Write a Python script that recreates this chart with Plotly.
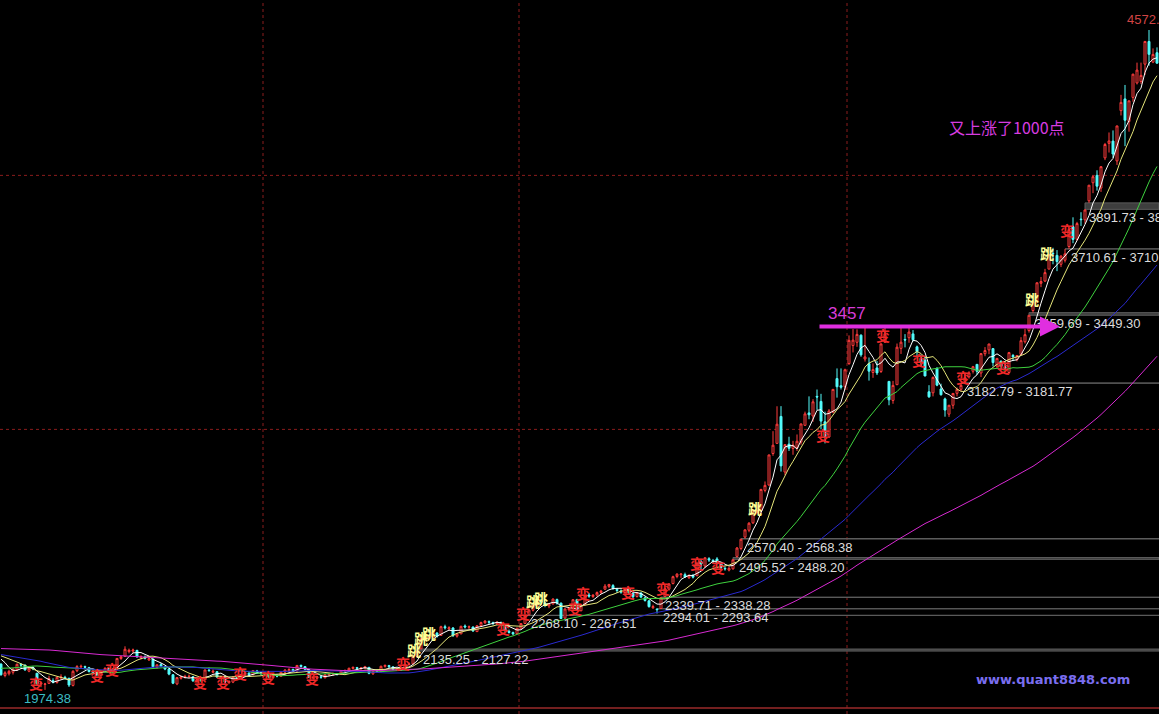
import pandas as pd
import plotly.graph_objects as go

# ---------------- data ----------------
pre_closes = [2085, 2073, 2072, 2057, 2096, 2103, 2101, 2097, 2098,
              2098, 2123, 2127, 2123, 2139, 2212, 2237, 2236, 2255, 2236, 2231, 2191, 2185, 2222, 2207, 2155, 2155, 2160, 2160, 2174,
              2199, 2211, 2194, 2228, 2238, 2233, 2194, 2184, 2193, 2229, 2210, 2183, 2164, 2132, 2134, 2128, 2160, 2141,
              2150, 2149, 2139, 2129, 2107, 2106, 2109, 2126, 2087, 2136, 2135, 2197, 2193, 2207, 2200, 2196, 2185, 2178, 2193, 2202, 2220,
              2207, 2222, 2251, 2245, 2238, 2237, 2210, 2203, 2191, 2196, 2160, 2162, 2149, 2143, 2084, 2090, 2103, 2112, 2101, 2115,
              2109, 2083, 2045, 2047, 2027, 2023, 2034, 2013, 2026, 2023, 2004, 1991, 2008, 2051, 2043, 2054, 2042, 2033, 2038, 2033,
              2044, 2060, 2103, 2113, 2100, 2116, 2136, 2143, 2112, 2142, 2113, 2077]

closes = [2034.2, 2041.7, 2047.4, 2056.3, 2075.2, 2071.5, 2053.1, 2059.6, 2057.9, 1999.1, 2001.2, 1997.7, 2019.1, 2004.3, 2023.7, 2025.2, 2021.7, 1993.5, 2047.6, 2066.3, 2067.3, 2063.7, 2046.6, 2041.7, 2033.3,
          2047.5, 2059.0, 2043.7, 2058.8, 2098.3, 2105.1, 2134.3, 2130.5, 2131.5, 2105.1, 2105.2, 2098.9, 2097.8, 2065.4, 2073.1, 2067.2, 2056.3, 2036.5, 2000.7, 2022.8, 2026.4,
          2027.3, 2028.0, 2010.1, 2015.3, 2011.1, 2052.9, 2050.3, 2047.9, 2024.8, 2026.5, 2005.3, 2008.1, 2025.0, 2021.3, 2034.6, 2041.5, 2034.6, 2050.4, 2040.6, 2039.2,
          2038.3, 2024.5, 2029.8, 2029.0, 2043.8, 2052.5, 2054.3, 2050.1, 2070.7, 2066.8, 2055.6, 2024.8, 2023.7, 2026.7, 2024.2, 2034.1, 2036.5, 2038.7, 2036.5, 2048.3,
          2050.4, 2059.4, 2063.2, 2059.4, 2060.5, 2065.6, 2039.5, 2046.9, 2047.3, 2067.3, 2070.8, 2066.0, 2055.5, 2059.1, 2054.1, 2075.5, 2077.0, 2107.4, 2126.6, 2177.0, 2183.2, 2181.2, 2201.6,
          2185.3, 2223.3, 2219.2, 2219.0, 2187.7, 2194.4, 2224.7, 2222.3, 2223.0, 2206.5, 2226.7, 2239.5, 2245.3, 2240.8, 2236.8, 2240.8, 2229.3, 2207.1, 2200.8, 2195.1, 2217.2,
          2235.5, 2266.1, 2288.6, 2306.9, 2326.4, 2318.6, 2307.9, 2311.7, 2331.9, 2315.9, 2255.6, 2293.1, 2296.0, 2329.5, 2290.4, 2308.7, 2345.1, 2343.6, 2347.7, 2357.6, 2363.9,
          2382.8, 2389.4, 2374.5, 2366.0, 2359.5, 2373.0, 2356.5, 2341.2, 2356.8, 2339.7, 2326.6, 2302.4, 2302.3, 2290.4, 2337.9, 2373.0, 2391.1, 2420.2,
          2430.0, 2430.7, 2419.3, 2425.9, 2418.2, 2473.7, 2469.7, 2494.5, 2485.6, 2478.8, 2474.0, 2456.4, 2451.0, 2452.7, 2486.8, 2532.9, 2567.6, 2604.4, 2630.5, 2682.8,
          2680.2, 2763.6, 2779.5, 2899.5, 2937.7, 3020.3, 2856.3, 2940.0, 2925.7, 2938.2, 2953.4, 3021.5, 3061.0, 3057.5, 3108.6, 3127.5, 3032.6, 2972.5, 3072.5, 3157.6, 3168.0, 3165.8, 3234.7,
          3350.5, 3351.4, 3373.9, 3293.5, 3285.4, 3229.3, 3235.3, 3222.4, 3336.5, 3376.5, 3116.4, 3173.1, 3323.6, 3343.3, 3351.8, 3383.2, 3353.0, 3305.7, 3262.3, 3210.4,
          3128.3, 3204.9, 3174.1, 3136.5, 3075.9, 3095.1, 3141.6, 3157.7, 3173.4, 3203.8, 3222.4, 3246.9, 3228.8, 3298.4, 3310.3,
          3336.3, 3263.1, 3279.5, 3248.5, 3241.2, 3302.4, 3286.1, 3290.9, 3349.3, 3372.9, 3449.3, 3502.9, 3577.3, 3582.3, 3617.3, 3687.7, 3691.4, 3660.7, 3682.1, 3691.1, 3786.6, 3747.9,
          3810.3, 3825.8, 3863.9, 3961.4, 3994.8, 3957.5, 4034.3, 4121.7, 4135.6, 4084.2, 4194.8, 4287.3, 4217.1, 4293.6, 4398.5, 4414.5, 4393.7, 4527.4, 4476.6, 4476.2, 4441.7]

opens = [2076, 2031, 2038, 2044, 2054, 2074, 2072, 2048, 2062, 2040, 1997, 1996, 2000, 2011, 2004, 2022, 2024, 2020, 1992, 2050, 2065, 2066, 2062, 2044, 2046,
         2032, 2048, 2058, 2042, 2058, 2098, 2106, 2125, 2127, 2130, 2102, 2104, 2092, 2096, 2063, 2074, 2066, 2057, 2034, 1998, 2020,
         2025, 2027, 2026, 2008, 2015, 2014, 2052, 2044, 2046, 2022, 2025, 2003, 2005, 2024, 2020, 2034, 2040, 2034, 2049, 2040,
         2035, 2037, 2022, 2030, 2028, 2044, 2050, 2055, 2049, 2071, 2066, 2054, 2022, 2020, 2026, 2022, 2034, 2037, 2038, 2037,
         2048, 2050, 2059, 2062, 2058, 2060, 2063, 2038, 2050, 2046, 2067, 2070, 2065, 2052, 2058, 2054, 2074, 2077, 2106, 2136, 2175, 2176, 2183,
         2198, 2189, 2223, 2215, 2218, 2186, 2195, 2226, 2221, 2222, 2204, 2228, 2239, 2243, 2239, 2235, 2240, 2228, 2205, 2200, 2196,
         2218, 2236, 2270, 2288, 2305, 2326, 2316, 2305, 2313, 2330, 2316, 2257, 2290, 2296, 2330, 2286, 2310, 2348, 2342, 2348, 2358,
         2371, 2382, 2385, 2370, 2364, 2358, 2372, 2355, 2342, 2356, 2337, 2325, 2298, 2293, 2295, 2342, 2371, 2393,
         2421, 2428, 2428, 2416, 2425, 2424, 2480, 2462, 2491, 2484, 2490, 2472, 2453, 2446, 2451, 2500, 2531, 2576, 2603, 2632,
         2673, 2680, 2760, 2781, 2905, 2945, 3051, 2832, 2942, 2925, 2928, 2950, 3016, 3065, 3053, 3130, 3110, 3030, 2970, 3068, 3200, 3172, 3168,
         3259, 3330, 3343, 3371, 3277, 3259, 3224, 3242, 3228, 3343, 3189, 3114, 3176, 3319, 3354, 3361, 3376, 3325, 3280, 3273,
         3148, 3144, 3240, 3159, 3120, 3060, 3095, 3142, 3158, 3190, 3207, 3229, 3256, 3222, 3298,
         3313, 3318, 3249, 3269, 3247, 3224, 3291, 3275, 3295, 3345, 3389, 3468, 3505, 3575, 3584, 3631, 3693, 3685, 3650, 3666, 3720, 3798,
         3748, 3828, 3825, 3900, 3971, 4000, 3950, 4069, 4126, 4135, 4057, 4255, 4301, 4212, 4307, 4364, 4370, 4438, 4527, 4446, 4483]

highs = [2079, 2048, 2054, 2060, 2078, 2080, 2074, 2065, 2067, 2041, 2008, 2002, 2030, 2020, 2026, 2036, 2030, 2022, 2052, 2072, 2074, 2070, 2065, 2054, 2056,
         2048, 2064, 2061, 2060, 2100, 2109, 2146, 2137, 2137, 2132, 2111, 2110, 2107, 2097, 2075, 2080, 2069, 2059, 2036, 2025, 2030,
         2034, 2035, 2029, 2020, 2019, 2055, 2062, 2055, 2048, 2030, 2027, 2012, 2028, 2029, 2037, 2045, 2044, 2052, 2053, 2045,
         2043, 2039, 2032, 2036, 2046, 2056, 2060, 2058, 2072, 2074, 2068, 2056, 2030, 2030, 2031, 2037, 2040, 2042, 2041, 2050,
         2055, 2062, 2066, 2065, 2064, 2069, 2065, 2050, 2055, 2070, 2074, 2073, 2068, 2062, 2063, 2078, 2083, 2110, 2127.22, 2180, 2190, 2192, 2205,
         2202, 2227, 2231, 2225, 2222, 2197, 2227, 2232, 2228, 2224, 2229, 2243, 2249, 2248, 2243, 2245, 2243, 2230, 2212, 2204, 2219,
         2237, 2267.51, 2291, 2310, 2328, 2334, 2322, 2316, 2335, 2334, 2318, 2296, 2300, 2332, 2333, 2311, 2347, 2356, 2351, 2362, 2368,
         2391, 2392, 2391, 2376, 2370, 2376, 2374, 2360, 2360, 2358, 2342, 2328, 2310, 2293.64, 2338.28, 2375, 2395, 2424,
         2434, 2433, 2436, 2428, 2431, 2476, 2490, 2496, 2497, 2490, 2497, 2476, 2460, 2460, 2488.20, 2537, 2568.38, 2607, 2635, 2686,
         2705, 2766, 2795, 2900, 2993, 3091, 3091.5, 2941, 2971, 2955, 2980, 3023, 3070, 3130, 3119, 3157, 3140, 3070, 3080, 3158, 3240, 3240, 3239,
         3370, 3395, 3394, 3374, 3404, 3283, 3260, 3269, 3338, 3401, 3189, 3191, 3338, 3406, 3375, 3406, 3391, 3330, 3295, 3288,
         3174, 3208, 3245, 3180, 3125, 3096, 3142, 3165, 3181.77, 3224, 3229, 3250, 3256, 3300, 3324,
         3336.5, 3319, 3281, 3270, 3268, 3305, 3297, 3293, 3363, 3395, 3449.30, 3504, 3578, 3600, 3632, 3688, 3715, 3706, 3686, 3710.45, 3789, 3835,
         3817, 3855, 3866.3, 3961.5, 4000, 4020, 4036, 4128, 4169, 4177, 4195, 4317, 4356, 4294, 4400, 4444, 4444, 4529, 4572.39, 4500, 4504]

lows = [2030, 2024, 2031, 2035, 2050, 2062, 2050, 2044, 2052, 1994, 1985, 1974.38, 1998, 2000, 1999, 2016, 2015, 1986, 1988, 2044, 2058, 2055, 2043, 2036, 2030,
        2025, 2044, 2041, 2036, 2055, 2092, 2104, 2118, 2120, 2100, 2094, 2094, 2089, 2062, 2058, 2064, 2052, 2032, 1997, 1993, 2015,
        2019, 2020, 2006, 2001, 2005, 2013, 2046, 2040, 2021, 2018, 2000, 1997, 2001, 2016, 2018, 2030, 2030, 2032, 2038, 2033,
        2031, 2020, 2017, 2024, 2026, 2040, 2047, 2046, 2046, 2062, 2052, 2021, 2016, 2010, 2018, 2020, 2028, 2030, 2031, 2035,
        2043, 2047, 2054, 2054, 2052, 2056, 2036, 2033, 2042, 2044, 2062, 2060, 2052, 2049, 2050, 2052, 2070, 2075, 2102, 2135.25, 2167, 2172, 2178,
        2180, 2188, 2212, 2208, 2183, 2180, 2194, 2216, 2213, 2203, 2202, 2223, 2234, 2232, 2229, 2229, 2226, 2204, 2196, 2190, 2193,
        2214, 2234, 2268.10, 2283, 2300, 2310, 2300, 2296, 2310, 2310, 2253, 2250, 2283, 2294, 2286, 2284, 2308, 2337, 2336, 2342, 2352,
        2368, 2375, 2368, 2356, 2353, 2350, 2352, 2330, 2338, 2336, 2322, 2298, 2293, 2275, 2294.01, 2339.71, 2365, 2390,
        2414, 2415, 2415, 2411, 2413, 2422, 2445, 2455, 2478, 2470, 2469, 2451, 2444, 2441, 2448, 2495.52, 2524, 2570.40, 2595, 2628,
        2665, 2668, 2752, 2778, 2896, 2945, 2834, 2820, 2915, 2900, 2915, 2940, 3015, 3040, 3030, 3077, 3000, 2945, 2966, 3064, 3125, 3157, 3155,
        3254, 3303, 3325, 3286, 3267, 3192, 3203, 3214, 3222, 3342, 3095, 3101, 3175, 3297, 3323, 3341, 3346, 3280, 3250, 3209,
        3124, 3130, 3170, 3133, 3050, 3049, 3081, 3130, 3150, 3182.79, 3200, 3220, 3215, 3206, 3288,
        3296, 3248, 3239, 3233, 3235, 3219, 3269, 3268, 3294, 3338, 3381, 3459.69, 3497, 3560, 3580, 3631, 3650, 3623, 3639, 3657, 3710.61, 3733,
        3743, 3801, 3810, 3891.73, 3930, 3940, 3935, 4060, 4090, 4069, 4041, 4236, 4115, 4172, 4290, 4358, 4360, 4395, 4432, 4442, 4441]

assert len(opens) == len(closes) == len(highs) == len(lows), (len(opens), len(closes), len(highs), len(lows))

ma_periods = [5, 10, 30, 60, 120]
ma_colors = ['#ffffff', '#e6e67a', '#3fd23f', '#2a2ad0', '#d82ad2']

# gaps: first candle index, label index, low, high, label
gap_start = [104, 131, 164, 165, 183, 185, 240, 257, 266, 271]
gap_label_idx = [105, 132, 165, 165.6, 184, 186, 241, 258, 267, 271.5]
gap_low = [2127.22, 2267.51, 2293.64, 2338.28, 2488.20, 2568.38, 3181.77, 3449.30, 3710.45, 3866.30]
gap_high = [2135.25, 2268.10, 2294.01, 2339.71, 2495.52, 2570.40, 3182.79, 3459.69, 3710.61, 3891.73]
gap_text = ['2135.25 - 2127.22', '2268.10 - 2267.51', '2294.01 - 2293.64', '2339.71 - 2338.28',
            '2495.52 - 2488.20', '2570.40 - 2568.38', '3182.79 - 3181.77', '3459.69 - 3449.30',
            '3710.61 - 3710.45', '3891.73 - 3866.30']

bian_x = [8.75, 24.0, 27.75, 49.75, 55.5, 59.75, 66.75, 77.75, 100.5, 125.5, 130.5, 143.5, 145.5,
          156.75, 165.5, 174.0, 179.25, 205.5, 220.5, 229.5, 240.5, 250.5, 266.5]
bian_y = [2001, 2033, 2057, 2005, 2005, 2041, 2025, 2021, 2080, 2218, 2277, 2297, 2356,
          2360, 2376, 2474, 2458, 2978, 3372, 3273, 3206, 3246, 3785]
tiao_x = [103.25, 105.0, 107.0, 133.0, 135.0, 188.5, 257.75, 261.5]
tiao_y = [2131, 2179, 2198, 2324, 2336, 2690, 3513, 3694]

N = len(closes)
idx = list(range(N))

fig = go.Figure()

fig.add_trace(go.Candlestick(
    x=idx, open=opens, high=highs, low=lows, close=closes,
    increasing=dict(line=dict(color='#ff3c3c', width=1), fillcolor='#000000'),
    decreasing=dict(line=dict(color='#54fcfc', width=1), fillcolor='#54fcfc'),
    whiskerwidth=0, hoverinfo='skip', showlegend=False))

full = pd.Series(pre_closes + closes, dtype=float)
for p, col in zip(ma_periods, ma_colors):
    ma = full.rolling(p).mean().iloc[len(pre_closes):].tolist()
    fig.add_trace(go.Scatter(x=idx, y=ma, mode='lines', line=dict(color=col, width=1),
                             hoverinfo='skip', showlegend=False))

XMIN, XMAX = -0.25, 289.5
YMIN, YMAX = 1879.5, 4690.5

shapes = []
for gx in [65.5, 129.5, 211.5]:
    shapes.append(dict(type='line', xref='x', yref='paper', x0=gx, x1=gx, y0=0, y1=1,
                       line=dict(color='#8a1c1c', width=1, dash='dot'), layer='below'))
for gy in [3000, 4000]:
    shapes.append(dict(type='line', xref='paper', yref='y', x0=0, x1=1, y0=gy, y1=gy,
                       line=dict(color='#8a1c1c', width=1, dash='dot'), layer='below'))
shapes.append(dict(type='line', xref='paper', yref='paper', x0=0, x1=1, y0=1 - 708 / 714, y1=1 - 708 / 714,
                   line=dict(color='#9a2a2a', width=1.5)))
for s, lo, hi in zip(gap_start, gap_low, gap_high):
    shapes.append(dict(type='rect', xref='x', yref='y', x0=s, x1=XMAX, y0=lo, y1=hi,
                       fillcolor='#3e3e3e', line=dict(color='#5c5c5c', width=1), layer='below'))

annotations = []
for lx, lo, t in zip(gap_label_idx, gap_low, gap_text):
    annotations.append(dict(x=lx, y=lo, xref='x', yref='y', text=t, showarrow=False,
                            xanchor='left', yanchor='top', yshift=1,
                            font=dict(family='Liberation Sans', size=13, color='#dcdcdc')))
for bx, by in zip(bian_x, bian_y):
    annotations.append(dict(x=bx, y=by, xref='x', yref='y', text='<b>变</b>', showarrow=False,
                            font=dict(family='Noto Sans CJK SC', size=14, color='#f02828')))
for tx, ty in zip(tiao_x, tiao_y):
    annotations.append(dict(x=tx, y=ty, xref='x', yref='y', text='<b>跳</b>', showarrow=False,
                            font=dict(family='Noto Sans CJK SC', size=14, color='#ffff96')))

annotations.append(dict(x=264.75, y=3405, ax=204.25, ay=3405, xref='x', yref='y', axref='x', ayref='y',
                        text='', showarrow=True, arrowhead=2, arrowsize=1, arrowwidth=4, arrowcolor='#e02ee0'))
annotations.append(dict(x=211.5, y=3458, xref='x', yref='y', text='3457', showarrow=False,
                        font=dict(family='Liberation Sans', size=17, color='#d83cd8')))
annotations.append(dict(x=251.5, y=4190, xref='x', yref='y', text='又上涨了1000点', showarrow=False,
                        font=dict(family='Noto Sans CJK SC', size=16, color='#d83ce0')))
annotations.append(dict(x=281, y=4612, xref='x', yref='y', text='4572.39', showarrow=False,
                        xanchor='left', font=dict(family='Liberation Sans', size=13, color='#d04444')))
annotations.append(dict(x=5.25, y=1942, xref='x', yref='y', text='1974.38', showarrow=False,
                        xanchor='left', font=dict(family='Liberation Sans', size=13, color='#3cbcc4')))
annotations.append(dict(x=1053 / 1159, y=1 - 679 / 714, xref='paper', yref='paper', text='<b>www.quant8848.com</b>',
                        xanchor='center', yanchor='middle',
                        showarrow=False, font=dict(family='DejaVu Sans', size=13, color='#7a6ef0')))

fig.update_layout(
    width=1159, height=714,
    margin=dict(l=0, r=0, t=0, b=0),
    paper_bgcolor='#000000', plot_bgcolor='#000000',
    showlegend=False,
    xaxis=dict(range=[XMIN, XMAX], visible=False, rangeslider=dict(visible=False), fixedrange=True),
    yaxis=dict(range=[YMIN, YMAX], visible=False, fixedrange=True),
    shapes=shapes, annotations=annotations,
)

fig.write_html('out.html', config={'displayModeBar': False},
               post_script="document.body.style.margin='0';document.body.style.overflow='hidden';document.body.style.background='#000';")
